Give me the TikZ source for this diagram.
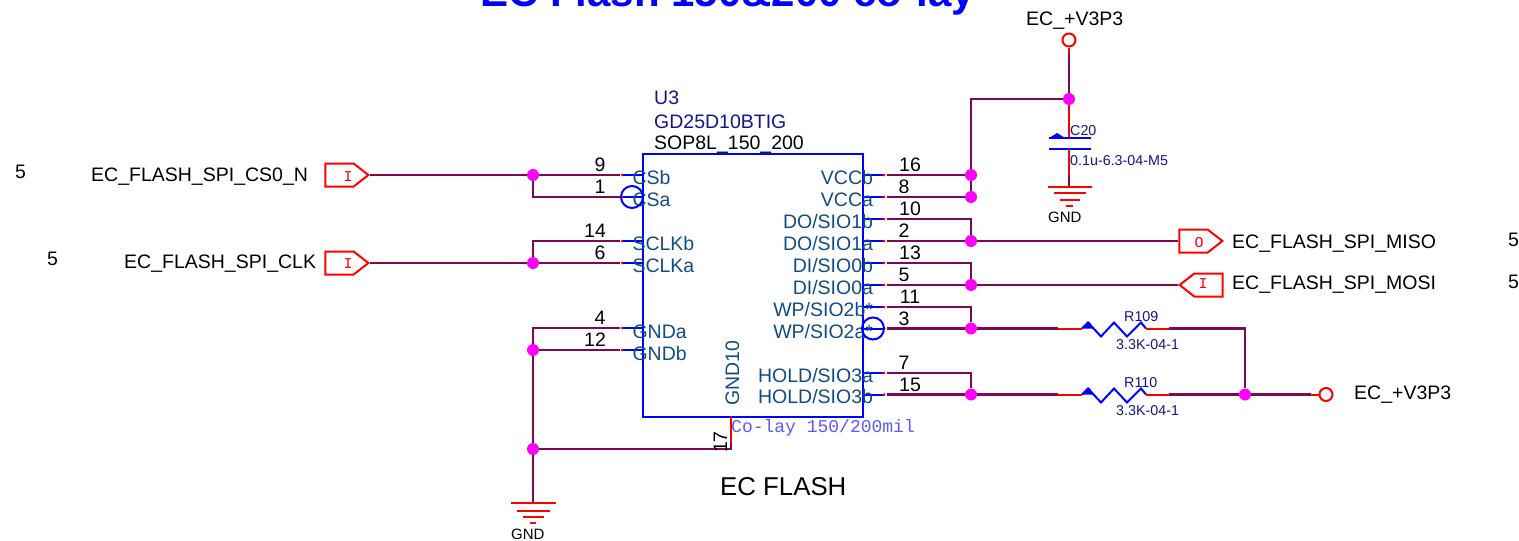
\documentclass[tikz,border=0pt]{standalone}
\usepackage{fontspec}
\setmainfont{Liberation Sans}
\setmonofont{Liberation Mono}
\usetikzlibrary{shapes.symbols}
\definecolor{wirecol}{HTML}{7A0B50}
\definecolor{pincol}{HTML}{114C85}
\definecolor{refcol}{HTML}{14148C}
\definecolor{notecol}{HTML}{5A5AFF}
\definecolor{dotcol}{HTML}{FF00FF}
\tikzset{
    wire/.style={line width=2.3pt, color=wirecol},
    redline/.style={line width=2pt, color=red},
    blueline/.style={line width=2pt, color=blue},
    junction/.style={circle, fill=dotcol, inner sep=0pt, minimum size=12pt},
    pinend/.style={circle, fill=red, inner sep=0pt, minimum size=3pt},
    pinnum/.style={anchor=base, inner sep=0pt, text=black, font=\fontsize{19.5}{20}\selectfont},
    pinname/.style={inner sep=0pt, text=pincol, font=\fontsize{19.5}{20}\selectfont},
    plain/.style={anchor=base west, inner sep=0pt, font=\fontsize{19.5}{20}\selectfont},
    small/.style={anchor=base west, inner sep=0pt, text=refcol, font=\fontsize{14.3}{15}\selectfont},
    port/.style={signal, draw=red, line width=2pt, inner sep=0pt, minimum width=43pt, minimum height=23pt, signal pointer angle=76},
    portletter/.style={anchor=base, inner sep=0pt, text=red, font=\ttfamily\fontsize{15}{16}\selectfont},
    power/.style={circle, draw=red, line width=2pt, inner sep=0pt, minimum size=13pt},
    invert/.style={circle, draw=blue, line width=2pt, inner sep=0pt, minimum size=22pt}
}
\begin{document}
\begin{tikzpicture}[x=1pt, y=-1pt]
        % Define Variables
        \def\chipL{643}
        \def\chipR{863}
        \def\pinL{622}
        \def\pinR{884}
        \def\busL{533}
        \def\busR{971}
        \def\numL{600}
        \def\numLL{595}
        \def\numR{904}
        \def\numRR{910}
        \def\nameL{631.5}
        \def\nameR{874}

        \useasboundingbox (0,0) rectangle (1519,541);

        % Title and Chip
        \node[anchor=base, inner sep=0pt, text=blue, font=\bfseries\fontsize{42}{44}\selectfont] (title) at (727.5,6) {EC Flash 150\&200 co-lay};
        \node[draw=blue, line width=2pt, minimum width=220pt, minimum height=263pt, inner sep=0pt] (u3) at (753,285.5) {};
        \node[plain, text=refcol] (u3ref) at (654,104) {U3};
        \node[plain, text=refcol] (u3val) at (654,128) {GD25D10BTIG};
        \node[plain] (u3pkg) at (654,149) {SOP8L\_150\_200};
        \node[anchor=base west, inner sep=0pt, text=notecol, font=\ttfamily\fontsize{18}{19}\selectfont] (colay) at (731,432) {Co-lay 150/200mil};
        \node[plain, font=\fontsize{25.8}{27}\selectfont] (caption) at (720,495) {EC FLASH};
        \node[pinname, rotate=90, anchor=base west] (gnd10) at (739,406) {GND10};

        % Left Pins
        \draw[blueline] (\chipL,175) -- (\pinL,175) node[pinend] (pCSb) {} node[pinnum] (nCSb) at (\numL,171) {9} node[pinname, anchor=base west] (lCSb) at (\nameL,184) {CSb};
        \draw[blueline] (\chipL,197) -- (\pinL,197) node[pinend] (pCSa) {} node[pinnum] (nCSa) at (\numL,193) {1} node[pinname, anchor=base west] (lCSa) at (\nameL,206) {CSa};
        \draw[blueline] (\chipL,241) -- (\pinL,241) node[pinend] (pCLKb) {} node[pinnum] (nCLKb) at (\numLL,237) {14} node[pinname, anchor=base west] (lCLKb) at (\nameL,250) {SCLKb};
        \draw[blueline] (\chipL,263) -- (\pinL,263) node[pinend] (pCLKa) {} node[pinnum] (nCLKa) at (\numL,259) {6} node[pinname, anchor=base west] (lCLKa) at (\nameL,272) {SCLKa};
        \draw[blueline] (\chipL,328) -- (\pinL,328) node[pinend] (pGNDa) {} node[pinnum] (nGNDa) at (\numL,324) {4} node[pinname, anchor=base west] (lGNDa) at (\nameL,338) {GNDa};
        \draw[blueline] (\chipL,350) -- (\pinL,350) node[pinend] (pGNDb) {} node[pinnum] (nGNDb) at (\numLL,346) {12} node[pinname, anchor=base west] (lGNDb) at (\nameL,360) {GNDb};
        \node[invert] (invCS) at (632,197) {};

        % Right Pins
        \draw[blueline] (\chipR,175) -- (\pinR,175) node[pinend] (pVCCb) {} node[pinnum] (nVCCb) at (\numRR,171) {16} node[pinname, anchor=base east] (lVCCb) at (\nameR,184) {VCCb};
        \draw[blueline] (\chipR,197) -- (\pinR,197) node[pinend] (pVCCa) {} node[pinnum] (nVCCa) at (\numR,193) {8} node[pinname, anchor=base east] (lVCCa) at (\nameR,206) {VCCa};
        \draw[blueline] (\chipR,219) -- (\pinR,219) node[pinend] (pDOb) {} node[pinnum] (nDOb) at (\numRR,215) {10} node[pinname, anchor=base east] (lDOb) at (\nameR,228) {DO/SIO1b};
        \draw[blueline] (\chipR,241) -- (\pinR,241) node[pinend] (pDOa) {} node[pinnum] (nDOa) at (\numR,237) {2} node[pinname, anchor=base east] (lDOa) at (\nameR,250) {DO/SIO1a};
        \draw[blueline] (\chipR,263) -- (\pinR,263) node[pinend] (pDIb) {} node[pinnum] (nDIb) at (\numRR,259) {13} node[pinname, anchor=base east] (lDIb) at (\nameR,272) {DI/SIO0b};
        \draw[blueline] (\chipR,285) -- (\pinR,285) node[pinend] (pDIa) {} node[pinnum] (nDIa) at (\numR,281) {5} node[pinname, anchor=base east] (lDIa) at (\nameR,294) {DI/SIO0a};
        \draw[blueline] (\chipR,307) -- (\pinR,307) node[pinend] (pWPb) {} node[pinnum] (nWPb) at (\numRR,303) {11} node[pinname, anchor=base east] (lWPb) at (\nameR,316) {WP/SIO2b*};
        \draw[blueline] (\chipR,328.5) -- (\pinR,328.5) node[pinend] (pWPa) {} node[pinnum] (nWPa) at (\numR,325) {3} node[pinname, anchor=base east] (lWPa) at (\nameR,338) {WP/SIO2a*};
        \draw[blueline] (\chipR,373) -- (\pinR,373) node[pinend] (pHOLDa) {} node[pinnum] (nHOLDa) at (\numR,369) {7} node[pinname, anchor=base east] (lHOLDa) at (\nameR,382) {HOLD/SIO3a};
        \draw[blueline] (\chipR,394.5) -- (\pinR,394.5) node[pinend] (pHOLDb) {} node[pinnum] (nHOLDb) at (\numRR,391) {15} node[pinname, anchor=base east] (lHOLDb) at (\nameR,403) {HOLD/SIO3b};
        \node[invert] (invWP) at (873,328.5) {};

        % Junctions
        \node[junction] (jCS) at (\busL,175) {};
        \node[junction] (jCLK) at (\busL,263) {};
        \node[junction] (jGNDb) at (\busL,350) {};
        \node[junction] (jGND17) at (\busL,449) {};
        \node[junction] (jVCCb) at (\busR,175) {};
        \node[junction] (jVCCa) at (\busR,197) {};
        \node[junction] (jDO) at (\busR,241) {};
        \node[junction] (jDI) at (\busR,285) {};
        \node[junction] (jWP) at (\busR,328.5) {};
        \node[junction] (jHOLD) at (\busR,394.5) {};
        \node[junction] (jTop) at (1069,99) {};
        \node[junction] (jPull) at (1245,394.5) {};

        % Ports
        \node[port, signal to=east, anchor=east] (portCS) at (370,175) {};
        \node[port, signal to=east, anchor=east] (portCLK) at (370,263) {};
        \node[port, signal to=east, anchor=east] (portMISO) at (1224,241) {};
        \node[port, signal to=west, anchor=west] (portMOSI) at (1178,285) {};
        \node[portletter] (ltrCS) at (348,181) {I};
        \node[portletter] (ltrCLK) at (348,268) {I};
        \node[portletter] (ltrMISO) at (1199,247) {O};
        \node[portletter] (ltrMOSI) at (1203,288) {I};
        \node[plain] (sigCS) at (91,181) {EC\_FLASH\_SPI\_CS0\_N};
        \node[plain] (sigCLK) at (124,268) {EC\_FLASH\_SPI\_CLK};
        \node[plain] (sigMISO) at (1232,248) {EC\_FLASH\_SPI\_MISO};
        \node[plain] (sigMOSI) at (1232,289) {EC\_FLASH\_SPI\_MOSI};
        \node[plain] (pageCS) at (15,178) {5};
        \node[plain] (pageCLK) at (47,265) {5};
        \node[plain] (pageMISO) at (1508,246) {5};
        \node[plain] (pageMOSI) at (1508,288) {5};

        % Left Wires
        \draw[wire] (portCS.east) -- (jCS);
        \draw[wire] (jCS) -- (pCSb);
        \draw[wire] (jCS) |- (pCSa);
        \draw[wire] (portCLK.east) -- (jCLK);
        \draw[wire] (jCLK) -- (pCLKa);
        \draw[wire] (jCLK) |- (pCLKb);
        \draw[wire] (jGNDb) -- (pGNDb);
        \draw[wire] (jGNDb) |- (pGNDa);
        \draw[wire] (jGNDb) -- (jGND17);

        % Pin 17 and Ground
        \coordinate (p17a) at (731,417);
        \coordinate (p17b) at (731,443);
        \coordinate (p17c) at (731,449);
        \coordinate (gndL) at (\busL,503);
        \draw[redline] (p17a) -- (p17b);
        \draw[wire] (jGND17) -- (p17c) -- (p17b);
        \node[pinnum, rotate=90] (n17) at (727,442) {17};
        \draw[wire] (jGND17) -- (gndL);
        \draw[redline] (gndL) ++(-22,0) -- ++(45,0);
        \draw[redline] (gndL) ++(-16,8) -- ++(33,0);
        \draw[redline] (gndL) ++(-10,14) -- ++(21,0);
        \draw[redline] (gndL) ++(-3,20) -- ++(6,0);
        \node[small, text=black, font=\fontsize{15}{16}\selectfont] (gndLtxt) at (511,539) {GND};

        % Right Wires
        \draw[wire] (pVCCb) -- (jVCCb);
        \draw[wire] (pVCCa) -- (jVCCa);
        \draw[wire] (jVCCa) -- (jVCCb);
        \draw[wire] (jVCCb) |- (jTop);
        \draw[wire] (pDOb) -| (jDO);
        \draw[wire] (pDOa) -- (jDO);
        \draw[wire] (jDO) -- (portMISO.west);
        \draw[wire] (pDIb) -| (jDI);
        \draw[wire] (pDIa) -- (jDI);
        \draw[wire] (jDI) -- (portMOSI.west);
        \draw[wire] (pWPb) -| (jWP);
        \draw[wire] (pWPa) -- (jWP);
        \draw[wire] (pHOLDa) -| (jHOLD);
        \draw[wire] (pHOLDb) -- (jHOLD);

        % Supply and Capacitor
        \node[power] (vccTop) at (1069,40) {};
        \node[plain] (vccTopTxt) at (1026,25) {EC\_+V3P3};
        \coordinate (vccStub) at (1069,54);
        \coordinate (capTop) at (1069,138);
        \coordinate (capBot) at (1069,149);
        \coordinate (capLead) at (1069,175);
        \coordinate (gndC) at (1069,186.5);
        \draw[redline] (vccTop) -- (vccStub);
        \draw[wire] (vccStub) -- (jTop);
        \draw[redline] (jTop) -- (capTop);
        \draw[blueline] (capTop) ++(-20,0) -- ++(42,0);
        \draw[blueline] (capBot) ++(-20,0) -- ++(42,0);
        \fill[blue] (capTop) ++(-20,0) -- ++(8,-5) -- ++(8,5) -- cycle;
        \draw[redline] (capBot) -- (capLead);
        \draw[wire] (capLead) -- (gndC);
        \draw[redline] (gndC) ++(-21,0) -- ++(44,0);
        \draw[redline] (gndC) ++(-15,6.5) -- ++(32,0);
        \draw[redline] (gndC) ++(-9,13) -- ++(20,0);
        \draw[redline] (gndC) ++(-3,19.5) -- ++(7,0);
        \node[small] (c20) at (1070,135) {C20};
        \node[small] (c20val) at (1070,165) {0.1u-6.3-04-M5};
        \node[small, text=black, font=\fontsize{15}{16}\selectfont] (gndCtxt) at (1048,222) {GND};

        % Pull-up Resistors
        \coordinate (r109a) at (1058,328.5);
        \coordinate (r109b) at (1082,328.5);
        \coordinate (r109c) at (1146,328.5);
        \coordinate (r109d) at (1169,328.5);
        \draw[wire] (jWP) -- (r109a);
        \draw[redline] (r109a) -- (r109b);
        \fill[blue] (r109b) -- ++(7,-7) -- ++(5,7) -- cycle;
        \draw[blueline] (r109b) -- ++(6,-6) -- ++(13,14) -- ++(13,-14) -- ++(13,14) -- ++(14,-14) -- (r109c);
        \draw[redline] (r109c) -- (r109d);
        \draw[wire] (r109d) -| (jPull);
        \node[small] (r109) at (1124,321) {R109};
        \node[small] (r109val) at (1116,349) {3.3K-04-1};

        \coordinate (r110a) at (1058,394.5);
        \coordinate (r110b) at (1082,394.5);
        \coordinate (r110c) at (1146,394.5);
        \coordinate (r110d) at (1169,394.5);
        \draw[wire] (jHOLD) -- (r110a);
        \draw[redline] (r110a) -- (r110b);
        \fill[blue] (r110b) -- ++(7,-7) -- ++(5,7) -- cycle;
        \draw[blueline] (r110b) -- ++(6,-6) -- ++(13,14) -- ++(13,-14) -- ++(13,14) -- ++(14,-14) -- (r110c);
        \draw[redline] (r110c) -- (r110d);
        \draw[wire] (r110d) -- (jPull);
        \node[small] (r110) at (1124,387) {R110};
        \node[small] (r110val) at (1116,415) {3.3K-04-1};

        \node[power] (vccRight) at (1326,394.5) {};
        \node[plain] (vccRightTxt) at (1354,399) {EC\_+V3P3};
        \coordinate (vccRightStub) at (1311,394.5);
        \draw[wire] (jPull) -- (vccRightStub);
        \draw[redline] (vccRightStub) -- (vccRight);
\end{tikzpicture}
\end{document}
